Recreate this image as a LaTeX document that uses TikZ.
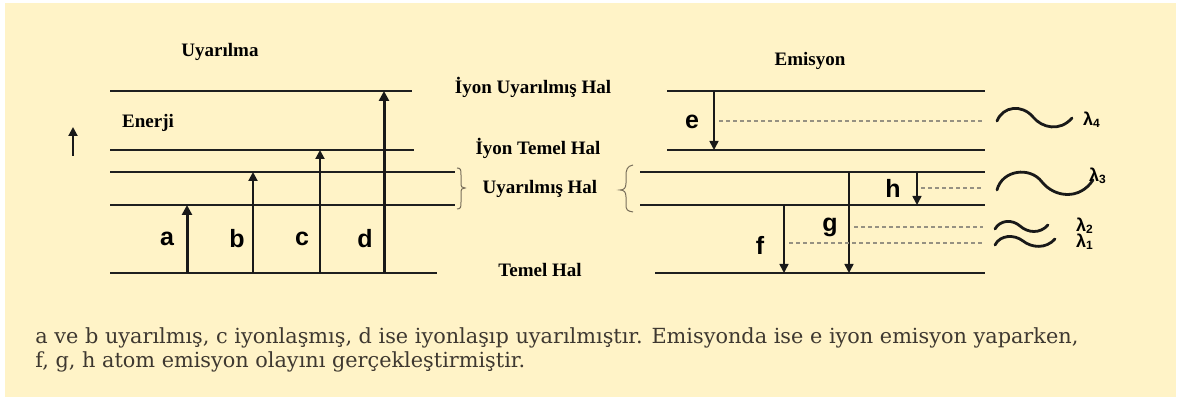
\documentclass[tikz,border=0pt]{standalone}
\usepackage{fontspec}
\setmainfont{Liberation Serif}
\newfontfamily\capfont{DejaVu Serif}
\newfontfamily\letfont{Liberation Sans}
\usetikzlibrary{arrows.meta}
\definecolor{cream}{RGB}{255,243,199}
\definecolor{capgray}{RGB}{62,56,48}
\definecolor{dotgray}{RGB}{150,145,130}
\definecolor{bracegray}{RGB}{120,110,90}
\newsavebox\caponebox
\newsavebox\captwobox
\begin{document}
\sbox\caponebox{\capfont\color{capgray}a ve b uyarılmış, c iyonlaşmış, d ise iyonlaşıp uyarılmıştır. Emisyonda ise e iyon emisyon yaparken,}%
\sbox\captwobox{\capfont\color{capgray}f, g, h atom emisyon olayını gerçekleştirmiştir.}%
\pgfmathsetmacro{\capscale}{521.5/\the\wd\caponebox}%
\begin{tikzpicture}[x=0.5pt,y=-0.5pt,
  level/.style={line width=1.3pt,draw=black!88},
  thickarr/.style={line width=1.5pt,draw=black!90,-{Triangle[width=5pt,length=5pt]}},
  thinarr/.style={line width=1pt,draw=black!90,-{Triangle[width=4.5pt,length=4.5pt]}},
  downarr/.style={line width=0.8pt,draw=black!90,-{Triangle[width=4.5pt,length=4.5pt]}},
  dotline/.style={dotgray,line width=0.6pt,dash pattern=on 2pt off 1.5pt},
  lab/.style={font=\bfseries\fontsize{9.5}{11}\selectfont,inner sep=0pt},
  letterlab/.style={font=\letfont\bfseries\fontsize{12.5}{13}\selectfont,inner sep=0pt},
  lamlab/.style={font=\letfont\bfseries\fontsize{9}{10}\selectfont,inner sep=0pt},
  wave/.style={line width=1.4pt,draw=black!90,line cap=round},
  bracep/.style={line width=0.5pt,draw=bracegray},
  captxt/.style={inner sep=0pt,anchor=west}]
\useasboundingbox (0,0) rectangle (1179,399);
\fill[white] (0,0) rectangle (1179,399);
\fill[cream] (5,3) rectangle (1176,397);

% titles
\node[lab] (tU) at (220,52) {Uyarılma};
\node[lab] (tE) at (810,61) {Emisyon};
\node[lab] (en) at (148,123) {Enerji};
\coordinate (ea0) at (73,156);
\coordinate (ea1) at (73,127);
\draw[thinarr] (ea0) -- (ea1);

% middle labels
\node[lab] (l1) at (533,87) {İyon Uyarılmış Hal};
\node[lab] (l2) at (538,148) {İyon Temel Hal};
\node[lab] (l3) at (540,189) {Uyarılmış Hal};
\node[lab] (l4) at (540,270) {Temel Hal};

% left levels
\draw[level] (110,91) -- (412,91);
\draw[level] (110,150) -- (414,150);
\draw[level] (110,172) -- (455,172);
\draw[level] (110,205) -- (455,205);
\draw[level] (110,273) -- (437,273);

% right levels
\draw[level] (667,91) -- (985,91);
\draw[level] (667,150) -- (985,150);
\draw[level] (640,172) -- (985,172);
\draw[level] (640,205) -- (985,205);
\draw[level] (655,273) -- (985,273);

% braces
\draw[bracep] (457,168) .. controls (461,168) and (461,170) .. (461,175) -- (461,183)
  .. controls (461,187) and (462,188) .. (465,188) .. controls (462,188) and (461,189) .. (461,193)
  -- (461,202) .. controls (461,207) and (461,209) .. (457,209);
\draw[bracep] (633,165) .. controls (627,166) and (626,170) .. (626,176) -- (626,183)
  .. controls (626,188) and (624,190) .. (620,190) .. controls (624,190) and (626,192) .. (626,197)
  -- (626,204) .. controls (626,210) and (627,211) .. (633,212);

% excitation arrows
\coordinate (a0) at (187,273); \coordinate (a1) at (187,205);
\coordinate (b0) at (253,273); \coordinate (b1) at (253,172);
\coordinate (c0) at (320,273); \coordinate (c1) at (320,150);
\coordinate (d0) at (384,273); \coordinate (d1) at (384,91);
\draw[thickarr] (a0) -- (a1);
\draw[thinarr] (b0) -- (b1);
\draw[thinarr] (c0) -- (c1);
\draw[thickarr] (d0) -- (d1);
\node[letterlab] (la) at (167,239) {a};
\node[letterlab] (lb) at (237,239) {b};
\node[letterlab] (lc) at (302,239) {c};
\node[letterlab] (ld) at (365,239) {d};

% emission arrows
\coordinate (e0) at (714,91);  \coordinate (e1) at (714,150);
\coordinate (g0) at (849,172); \coordinate (g1) at (849,273);
\coordinate (h0) at (917,172); \coordinate (h1) at (917,205);
\coordinate (f0) at (784,205); \coordinate (f1) at (784,273);
\draw[downarr] (e0) -- (e1);
\draw[downarr] (g0) -- (g1);
\draw[downarr] (h0) -- (h1);
\draw[downarr] (f0) -- (f1);
\node[letterlab] (le) at (692,122) {e};
\node[letterlab] (lh) at (893,188) {h};
\node[letterlab] (lg) at (830,227) {g};
\node[letterlab] (lf) at (760,245) {f};

% dotted lines
\draw[dotline] (719,121) -- (984,121);
\draw[dotline] (921,188) -- (984,188);
\draw[dotline] (854,227) -- (983,227);
\draw[dotline] (789,243) -- (983,243);

% waves
\draw[wave] (997,121) .. controls (1003,106) and (1022,104) .. (1033,117) .. controls (1042,128) and (1060,132) .. (1072,118);
\draw[wave] (997,190) .. controls (1002,170) and (1030,166) .. (1042,182) .. controls (1055,198) and (1080,200) .. (1093,180);
\draw[wave] (995,229) .. controls (1000,220) and (1012,219) .. (1020,226) .. controls (1028,233) and (1040,234) .. (1048,225);
\draw[wave] (995,245) .. controls (1000,235) and (1014,234) .. (1023,241) .. controls (1032,248) and (1046,249) .. (1055,239);
\node[lamlab] (k4) at (1092,120) {λ\textsubscript{4}};
\node[lamlab] (k3) at (1098,176) {λ\textsubscript{3}};
\node[lamlab] (k2) at (1085,226) {λ\textsubscript{2}};
\node[lamlab] (k1) at (1085,242) {λ\textsubscript{1}};

% caption
\node[captxt] (cap1) at (35,338) {\scalebox{\capscale}{\usebox\caponebox}};
\node[captxt] (cap2) at (35,362) {\scalebox{\capscale}{\usebox\captwobox}};
\end{tikzpicture}
\end{document}
